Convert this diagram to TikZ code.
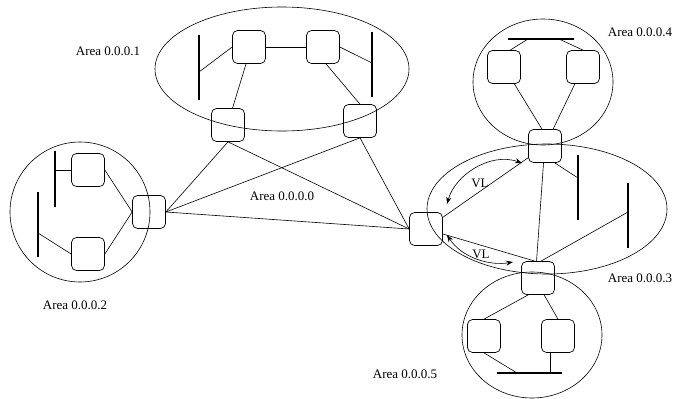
\documentclass[tikz,border=0pt]{standalone}
\usepackage{fontspec}
\setmainfont{Liberation Serif}
\usetikzlibrary{arrows.meta}

\begin{document}
\begin{tikzpicture}[x=1pt,y=-1pt,
  rtr/.style={draw,rounded corners=5pt,minimum width=33pt,minimum height=33pt,inner sep=0pt,line width=.7pt},
  bus/.style={line width=2.4pt},
  lnk/.style={line width=.6pt},
  vl/.style={<->,>={Stealth[length=7pt,width=5pt]},line width=.6pt},
  lbl/.style={font=\fontsize{13}{15}\selectfont}]
\useasboundingbox (0,0) rectangle (675,399);

% areas
\draw[lnk] (282,69) ellipse [x radius=127, y radius=62];
\draw[lnk] (80,212) ellipse [x radius=70, y radius=70];
\draw[lnk] (547,209) ellipse [x radius=120, y radius=65];
\draw[lnk] (543,82) ellipse [x radius=70, y radius=63];
\draw[lnk] (532,335) ellipse [x radius=70, y radius=63];

% routers
\node[rtr] (a1l) at (249,47) {};
\node[rtr] (a1r) at (323,47) {};
\node[rtr] (b1l) at (228,125) {};
\node[rtr] (b1r) at (360,121) {};
\node[rtr] (a2t) at (88,170) {};
\node[rtr] (a2b) at (88,254) {};
\node[rtr] (b2) at (149,212) {};
\node[rtr] (b3) at (426,229) {};
\node[rtr] (b34) at (545,146) {};
\node[rtr] (b35) at (538,278) {};
\node[rtr] (a4l) at (504,67) {};
\node[rtr] (a4r) at (583,67) {};
\node[rtr] (a5l) at (484,336) {};
\node[rtr] (a5r) at (558,336) {};

% networks
\draw[bus] (199,35) -- (199,100);
\draw[bus] (372,32) -- (372,97);
\draw[bus] (55,151) -- (55,207);
\draw[bus] (38,192) -- (38,257);
\draw[bus] (578,155) -- (578,220);
\draw[bus] (628,183) -- (628,248);
\draw[bus] (508,39) -- (574,39);
\draw[bus] (497,373) -- (562,373);
\coordinate (n1l) at (199,72);
\coordinate (n1r) at (372,63);
\coordinate (n2t) at (55,170);
\coordinate (n2b) at (38,233);
\coordinate (n3a) at (578,178);
\coordinate (n3b) at (628,212);
\coordinate (n4l) at (528,39);
\coordinate (n4r) at (559,39);
\coordinate (n5l) at (517,373);
\coordinate (n5r) at (550,373);

% area 0.0.0.1
\draw[lnk] (a1l.west) -- (n1l);
\draw[lnk] (a1l) -- (a1r);
\draw[lnk] (a1r.east) -- (n1r);
\draw[lnk] (a1l.-100) -- (b1l.75);
\draw[lnk] (a1r.-80) -- (b1r.north);

% area 0.0.0.2
\draw[lnk] (a2t.west) -- (n2t);
\draw[lnk] (a2b.west) -- (n2b);
\draw[lnk] (a2t.east) -- (b2.west);
\draw[lnk] (a2b.east) -- (b2.west);

% backbone
\draw[lnk] (b2.east) -- (b1l.south);
\draw[lnk] (b2.east) -- (b1r.south);
\draw[lnk] (b2.east) -- (b3.west);
\draw[lnk] (b1l.south) -- (b3.west);
\draw[lnk] (b1r.south) -- (b3.west);

% area 0.0.0.3
\draw[lnk] (b3) -- (b34);
\draw[lnk] (b3) -- (b35.100);
\draw[lnk] (b34.-95) -- (b35.95);
\draw[lnk] (b34.-60) -- (n3a);
\draw[lnk] (b35.80) -- (n3b);

% area 0.0.0.4
\draw[lnk] (a4l.70) -- (n4l);
\draw[lnk] (a4r.north) -- (n4r);
\draw[lnk] (a4l) -- (b34.100);
\draw[lnk] (a4r) -- (b34);

% area 0.0.0.5
\draw[lnk] (b35.-120) -- (a5l.north);
\draw[lnk] (b35.-70) -- (a5r.north);
\draw[lnk] (a5l.south) -- (n5l);
\draw[lnk] (n5r |- a5r.south) -- (n5r);

% virtual links
\draw[vl] (447,204) .. controls (455,175) and (490,152) .. (522,163);
\draw[vl] (447,235) .. controls (462,258) and (490,266) .. (513,262);

% labels
\node[lbl] (t1) at (108,51) {Area 0.0.0.1};
\node[lbl] (t2) at (75,305) {Area 0.0.0.2};
\node[lbl] (t0) at (282,196) {Area 0.0.0.0};
\node[lbl] (t3) at (640,278) {Area 0.0.0.3};
\node[lbl] (t4) at (640,32) {Area 0.0.0.4};
\node[lbl] (t5) at (405,374) {Area 0.0.0.5};
\node[lbl] (vl1) at (480,183) {VL};
\node[lbl] (vl2) at (481,254) {VL};

\end{tikzpicture}
\end{document}
